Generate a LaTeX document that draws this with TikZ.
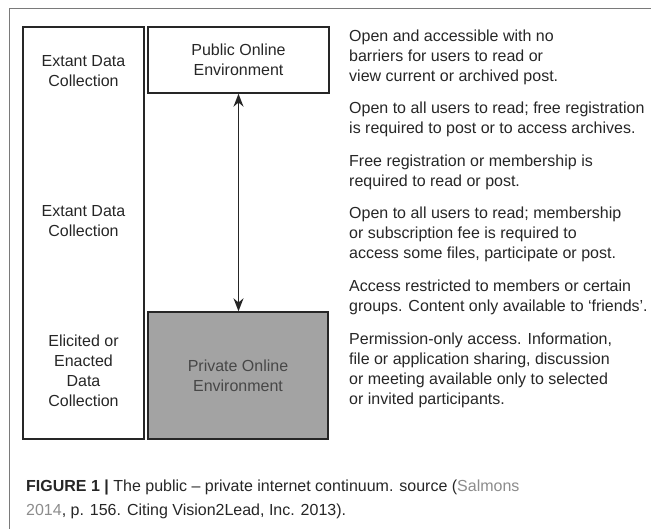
\documentclass[tikz,border=0pt]{standalone}
\usepackage{fontspec}
\setmainfont{Liberation Sans}
\usetikzlibrary{arrows.meta}
\definecolor{boxgray}{HTML}{A3A3A3}
\definecolor{framegray}{HTML}{7A7A7A}
\definecolor{inkgray}{HTML}{262626}
\definecolor{citegray}{HTML}{8C8C8C}
\tikzset{
  envbox/.style={draw=inkgray, line width=1.4pt, align=center, inner sep=0pt,
    font=\fontsize{16}{20}\selectfont, text=inkgray},
  collabel/.style={align=center, inner sep=0pt, font=\fontsize{16}{20}\selectfont, text=inkgray},
  desc/.style={anchor=north west, align=left, inner sep=0pt,
    font=\fontsize{16}{20}\selectfont, text=inkgray},
}
\begin{document}
\begin{tikzpicture}[x=1pt, y=-1pt]
  \useasboundingbox (0,0) rectangle (651,529);
  % draw outer frame (top and left edge only)
  \draw[framegray, line width=1.5pt] (651,8.5) -- (9.5,8.5) -- (9.5,529);
  % draw data collection column
  \node[envbox, minimum width=121, minimum height=412] (col) at (83.5,233) {};
  \node[collabel] (ext1) at (83.5,71) {Extant Data\\Collection};
  \node[collabel] (ext2) at (83.5,221) {Extant Data\\Collection};
  \node[collabel] (eli) at (83.5,371) {Elicited or\\Enacted\\Data\\Collection};
  % draw public and private boxes
  \node[envbox, minimum width=181, minimum height=66] (pub) at (238.5,60) {Public Online\\Environment};
  \node[envbox, fill=boxgray, text=inkgray!85, minimum width=180, minimum height=127] (priv) at (238,375.5) {Private Online\\Environment};
  % draw two-headed arrow
  \draw[inkgray, line width=1.4pt, {Stealth[length=13pt,width=10pt]}-{Stealth[length=13pt,width=10pt]}]
    (pub.south) -- (pub.south |- priv.north);
%
  \node[desc] (d1) at (349,29.3) {Open and accessible with no\\barriers for users to read or\\view current or archived post.};
  \node[desc] (d2) at (349,101.9) {Open to all users to read; free registration\\is required to post or to access archives.};
  \node[desc] (d3) at (349,154.5) {Free registration or membership is\\required to read or post.};
  \node[desc] (d4) at (349,207.1) {Open to all users to read; membership\\or subscription fee is required to\\access some files, participate or post.};
  \node[desc] (d5) at (349,279.7) {Access restricted to members or certain\\groups. Content only available to `friends'.};
  \node[desc] (d6) at (349,332.3) {Permission-only access. Information,\\file or application sharing, discussion\\or meeting available only to selected\\or invited participants.};
  % caption
  \node[desc, font=\fontsize{16}{24}\selectfont] (cap) at (26,479.3)
    {\textbf{FIGURE 1 |} The public -- private internet continuum. source ({\color{citegray}Salmons}\\{\color{citegray}2014}, p. 156. Citing Vision2Lead, Inc. 2013).};
\end{tikzpicture}
\end{document}
